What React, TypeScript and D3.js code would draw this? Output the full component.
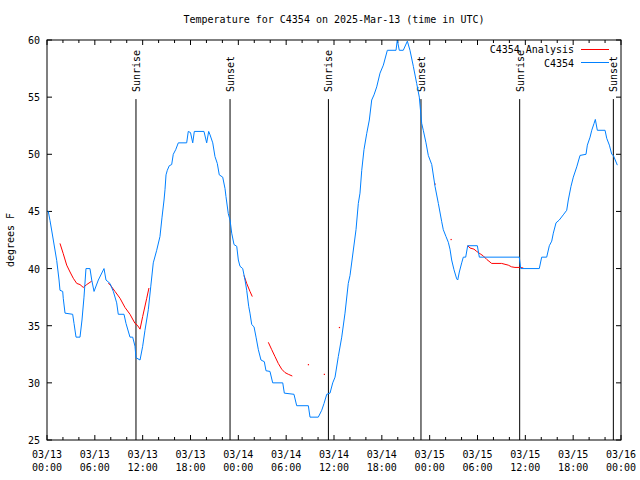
import React from "react";
import * as d3 from "d3";

// hours since 03/13 00:00 UTC, temperature °F
const obsHours = [0,0.16,0.38,0.79,1.22,1.51,1.63,1.97,2.04,2.26,3.22,3.39,3.64,4.14,4.39,4.64,4.89,5.39,5.61,5.9,6.44,7.15,7.4,7.9,8.32,8.74,8.94,9.66,9.91,10.41,10.75,11.04,11.16,11.67,12.0,12.29,12.71,13.01,13.33,13.76,14.17,14.43,14.68,14.8,14.93,15.09,15.34,15.64,15.84,16.14,16.47,17.52,17.72,18.0,18.28,18.48,19.69,20.03,20.28,20.45,20.79,21.07,21.36,21.61,22.04,22.33,22.45,22.74,22.96,23.17,23.46,23.8,24.0,24.21,24.55,24.84,25.05,25.3,25.46,25.68,25.97,26.22,26.51,26.84,27.26,27.47,27.97,28.31,29.57,29.77,30.98,31.32,32.78,32.99,34.03,34.46,34.75,35.09,35.5,35.84,36.13,36.54,36.97,37.38,37.79,38.01,38.76,39.05,39.26,39.48,39.76,40.1,40.43,40.73,41.02,41.36,41.77,42.19,42.69,43.78,43.94,44.19,44.69,45.2,45.53,45.95,46.37,46.7,47.0,47.2,47.54,47.83,48.26,48.67,49.09,49.51,49.71,50.05,50.34,50.55,50.76,51.05,51.39,51.52,51.72,52.02,52.22,52.52,52.77,53.98,54.23,59.24,59.42,61.75,62.05,62.68,63.01,63.31,63.51,63.85,64.26,64.76,65.19,65.39,65.73,66.02,66.45,66.86,67.61,67.78,68.12,68.33,68.62,68.78,69.03,70.0,70.21,70.54,70.84,71.04,71.54];
const obsTemps = [45,45,44.2,42.5,40.7,39,38.1,38,37.4,36.1,36,35.2,34,34,35.5,37.5,40,40,39,38,39,40,39,38.7,38,37,36,36,35.2,34,34,33.2,32.2,32,33.2,34.6,36.4,38.4,40.5,41.6,42.8,44.5,46,46.9,48.2,48.6,49,49.1,50,50.4,51,51,52,51.9,51,52,52,51,52,51.7,51,49.8,49.2,48.2,48,47,46.3,44.8,44.25,43.1,42.1,41.95,40.75,40.2,40,39,38.1,36.7,36.1,35.1,34.9,34,32.9,32,31.85,31.06,31,30,30,29.1,29,28,28,27,27,27.6,28.2,29,29.1,30,30.5,32.3,34,36.1,38.7,39.4,43.4,45.7,46.6,48.6,50.4,51.8,53,54.75,55.2,55.9,57.1,57.8,59.1,59.1,60,59.1,59.1,59.9,59.1,57.7,56.2,55,52.7,52.1,51,49.9,49.1,47.2,45.7,44.1,43.4,42.8,42.3,41.7,40.75,39.9,39.1,39,39.7,40.5,41,41,42,42,41,41,40,40,41,41,42,42.4,43.1,44,44.25,44.7,45.1,46,47.2,48,48.9,49.9,50,50.8,51.5,52.1,52.7,53.05,52.1,52.1,51.4,50.8,50,49.9,49.05];

// analysis segments: [hour, temp]
const analysis1: [number, number][] = [[1.63,42.2],[2.04,41.3],[2.47,40.3],[2.89,39.7],[3.3,39.15],[3.73,38.7],[4.14,38.6],[4.55,38.35],[4.98,38.6],[5.61,38.9]];
const analysis2: [number, number][] = [[7.69,38.7],[7.9,38.6],[8.53,38],[9.16,37.4],[9.78,36.6],[10.41,36],[11.04,35.2],[11.33,35.05],[11.67,34.7],[12.0,35.8],[12.51,37.4],[12.79,38.3]];
const analysis3: [number, number][] = [[24.71,39.4],[25.05,38.7],[25.46,38],[25.75,37.55]];
const analysis4: [number, number][] = [[27.76,33.55],[28.19,32.9],[28.6,32.3],[29.01,31.7],[29.44,31.2],[29.85,30.9],[30.27,30.75],[30.77,30.6]];
const analysis5: [number, number][] = [[52.77,42],[53.06,41.8],[53.56,41.7],[53.9,41.5],[54.32,41.3],[54.74,41.1],[55.16,40.8],[55.78,40.45],[57.03,40.45],[57.86,40.3],[58.28,40.15],[58.7,40.1],[59.32,40.1],[59.75,40.05]];
const analysisDots: [number, number][] = [[32.78,31.6],[34.78,30.75],[36.67,34.85],[48.67,47.4],[50.68,42.55]];

const sunEvents: [number, string][] = [[11.16,"Sunrise"],[22.96,"Sunset"],[35.3,"Sunrise"],[46.91,"Sunset"],[59.29,"Sunrise"],[71.04,"Sunset"]];
const xTickHours = [0,6,12,18,24,30,36,42,48,54,60,66,72];
const xTickDates = ["03/13","03/13","03/13","03/13","03/14","03/14","03/14","03/14","03/15","03/15","03/15","03/15","03/16"];
const xTickTimes = ["00:00","06:00","12:00","18:00","00:00","06:00","12:00","18:00","00:00","06:00","12:00","18:00","00:00"];
const yTicks = [25,30,35,40,45,50,55,60];

const W = 640, H = 480;
const L = 47, R = 621, T = 40, B = 440;
const FONT = "'DejaVu Sans Mono', monospace";
const BLUE = "#0080ff";

export default function App() {
  const x = d3.scaleLinear().domain([0, 72]).range([L, R]);
  const y = d3.scaleLinear().domain([25, 60]).range([B, T]);
  const line = d3.line<[number, number]>().x(d => x(d[0])).y(d => y(d[1]));
  const obs: [number, number][] = obsHours.map((h, i) => [h, obsTemps[i]]);
  const minor = d3.range(0, 73, 2).filter(h => h % 6 !== 0);
  const sunTop = y(54.83);
  return (
    <svg width={W} height={H} style={{ position: "absolute", left: 0, top: 0, background: "#fff" }} fontFamily={FONT} fontSize={10}>
      <rect x={0} y={0} width={W} height={H} fill="#fff" />
      <text x={334} y={23} textAnchor="middle">Temperature for C4354 on 2025-Mar-13 (time in UTC)</text>
      {/* ticks */}
      {xTickHours.map(h => (
        <g key={"mx" + h}>
          <line x1={x(h)} x2={x(h)} y1={B} y2={B - 5} stroke="#000" />
          <line x1={x(h)} x2={x(h)} y1={T} y2={T + 5} stroke="#000" />
        </g>
      ))}
      {minor.map(h => (
        <g key={"nx" + h}>
          <line x1={x(h)} x2={x(h)} y1={B} y2={B - 3} stroke="#000" />
          <line x1={x(h)} x2={x(h)} y1={T} y2={T + 3} stroke="#000" />
        </g>
      ))}
      {yTicks.map(v => (
        <g key={"y" + v}>
          <line x1={L} x2={L + 5} y1={y(v)} y2={y(v)} stroke="#000" />
          <line x1={R} x2={R - 5} y1={y(v)} y2={y(v)} stroke="#000" />
          <text x={40} y={y(v) + 4} textAnchor="end">{v}</text>
        </g>
      ))}
      {xTickHours.map((h, i) => (
        <g key={"lx" + h}>
          <text x={x(h)} y={458} textAnchor="middle">{xTickDates[i]}</text>
          <text x={x(h)} y={471} textAnchor="middle">{xTickTimes[i]}</text>
        </g>
      ))}
      <text transform={`translate(14,240) rotate(-90)`} textAnchor="middle">degrees F</text>
      {/* sun lines */}
      {sunEvents.map(([h, lab], i) => (
        <g key={"s" + i}>
          <line x1={x(h)} x2={x(h)} y1={sunTop} y2={B} stroke="#000" />
          <text transform={`translate(${x(h) + 4},92) rotate(-90)`} textAnchor="start">{lab}</text>
        </g>
      ))}
      {/* series */}
      {[analysis1, analysis2, analysis3, analysis4, analysis5].map((seg, i) => (
        <path key={"a" + i} d={line(seg) || ""} fill="none" stroke="#ff0000" strokeWidth={1} />
      ))}
      {analysisDots.map((d, i) => (
        <rect key={"d" + i} x={x(d[0]) - 0.5} y={y(d[1]) - 0.5} width={1.2} height={1.2} fill="#ff0000" />
      ))}
      <path d={line(obs) || ""} fill="none" stroke={BLUE} strokeWidth={1} />
      {/* border */}
      <rect x={L} y={T} width={R - L} height={B - T} fill="none" stroke="#000" />
      {/* legend */}
      <text x={574} y={53} textAnchor="end">C4354 Analysis</text>
      <line x1={581} x2={609} y1={49.5} y2={49.5} stroke="#ff0000" />
      <text x={574} y={67} textAnchor="end">C4354</text>
      <line x1={581} x2={609} y1={62.5} y2={62.5} stroke={BLUE} />
    </svg>
  );
}
